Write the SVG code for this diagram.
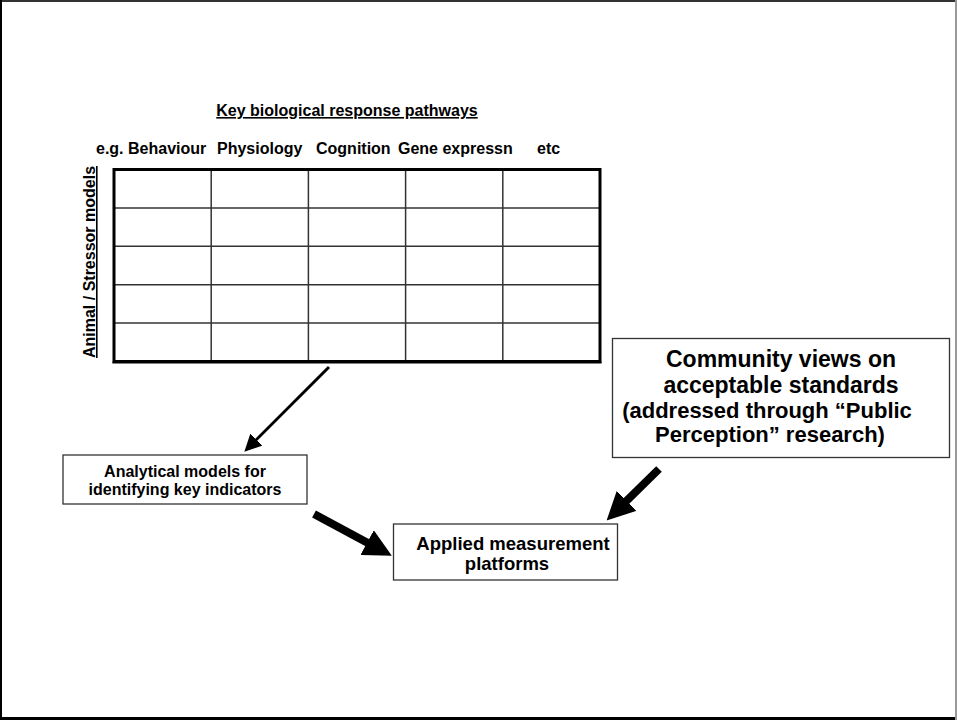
<svg xmlns="http://www.w3.org/2000/svg" width="957" height="720" viewBox="0 0 957 720">
  <style>
    text { font-family: "Liberation Sans", Arial, sans-serif; font-weight: bold; fill: #000; }
    .hdr { font-size: 16px; }
    .box { fill: #fff; stroke: #333; stroke-width: 1.3; }
    .grid { stroke: #333; stroke-width: 1.5; fill: none; }
    .thin { stroke: #000; stroke-width: 3; fill: none; }
    .thick { stroke: #000; stroke-width: 8; fill: none; }
  </style>
  <defs>
    <marker id="headThin" markerUnits="userSpaceOnUse" markerWidth="17" markerHeight="17" refX="6" refY="8.5" orient="auto">
      <path d="M0,0 L17,8.5 L0,17 z" fill="#000"/>
    </marker>
    <marker id="headThick" markerUnits="userSpaceOnUse" markerWidth="28" markerHeight="28" refX="14" refY="14" orient="auto">
      <path d="M0,0 L28,14 L0,28 z" fill="#000"/>
    </marker>
  </defs>

  <!-- page frame -->
  <rect x="0" y="0" width="957" height="720" fill="#fff"/>
  <line x1="0" y1="1" x2="957" y2="1" stroke="#333" stroke-width="2"/>
  <line x1="1" y1="0" x2="1" y2="720" stroke="#000" stroke-width="2"/>
  <line x1="0" y1="718.5" x2="957" y2="718.5" stroke="#000" stroke-width="3"/>
  <line x1="956" y1="0" x2="956" y2="720" stroke="#999" stroke-width="2"/>

  <!-- response pathway matrix -->
  <g id="matrix">
    <text class="hdr" x="347" y="116" text-anchor="middle" text-decoration="underline">Key biological response pathways</text>
    <text class="hdr" x="96" y="154">e.g. Behaviour</text>
    <text class="hdr" x="217" y="154">Physiology</text>
    <text class="hdr" x="316" y="154">Cognition</text>
    <text class="hdr" x="398" y="154">Gene expressn</text>
    <text class="hdr" x="537" y="154">etc</text>
    <text class="hdr" x="95" y="262" text-anchor="middle" text-decoration="underline" transform="rotate(-90 95 262)">Animal / Stressor models</text>
    <g class="grid">
      <line x1="211.2" y1="169.5" x2="211.2" y2="361.5"/>
      <line x1="308.4" y1="169.5" x2="308.4" y2="361.5"/>
      <line x1="405.6" y1="169.5" x2="405.6" y2="361.5"/>
      <line x1="502.8" y1="169.5" x2="502.8" y2="361.5"/>
      <line x1="114" y1="207.9" x2="600" y2="207.9"/>
      <line x1="114" y1="246.3" x2="600" y2="246.3"/>
      <line x1="114" y1="284.7" x2="600" y2="284.7"/>
      <line x1="114" y1="323.1" x2="600" y2="323.1"/>
    </g>
    <rect x="114" y="169.5" width="486" height="192" fill="none" stroke="#000" stroke-width="3"/>
    <line x1="112.5" y1="362.5" x2="601.5" y2="362.5" stroke="#000" stroke-width="2"/>
  </g>

  <g id="analytical">
    <rect class="box" x="63" y="455" width="244" height="49"/>
    <text class="hdr" x="185" y="477" text-anchor="middle">Analytical models for</text>
    <text class="hdr" x="185" y="495" text-anchor="middle">identifying key indicators</text>
  </g>

  <g id="applied">
    <rect class="box" x="393.5" y="524" width="224" height="56"/>
    <text x="513" y="550" font-size="18.5" text-anchor="middle">Applied measurement</text>
    <text x="507" y="570" font-size="18.5" text-anchor="middle">platforms</text>
  </g>

  <g id="community">
    <rect class="box" x="612.5" y="338.5" width="337" height="119" stroke="#555"/>
    <text x="781" y="367" font-size="23" text-anchor="middle">Community views on</text>
    <text x="781" y="393" font-size="23" text-anchor="middle">acceptable standards</text>
    <text x="767" y="418" font-size="22" text-anchor="middle">(addressed through “Public</text>
    <text x="770" y="442" font-size="22" text-anchor="middle">Perception” research)</text>
  </g>

  <g id="connectors">
    <line class="thin" x1="329" y1="367" x2="252.1" y2="443.9" marker-end="url(#headThin)"/>
    <line class="thick" x1="314" y1="514" x2="379.5" y2="549.2" marker-end="url(#headThick)"/>
    <line class="thick" x1="659" y1="469" x2="616.6" y2="510.6" marker-end="url(#headThick)"/>
  </g>
</svg>
